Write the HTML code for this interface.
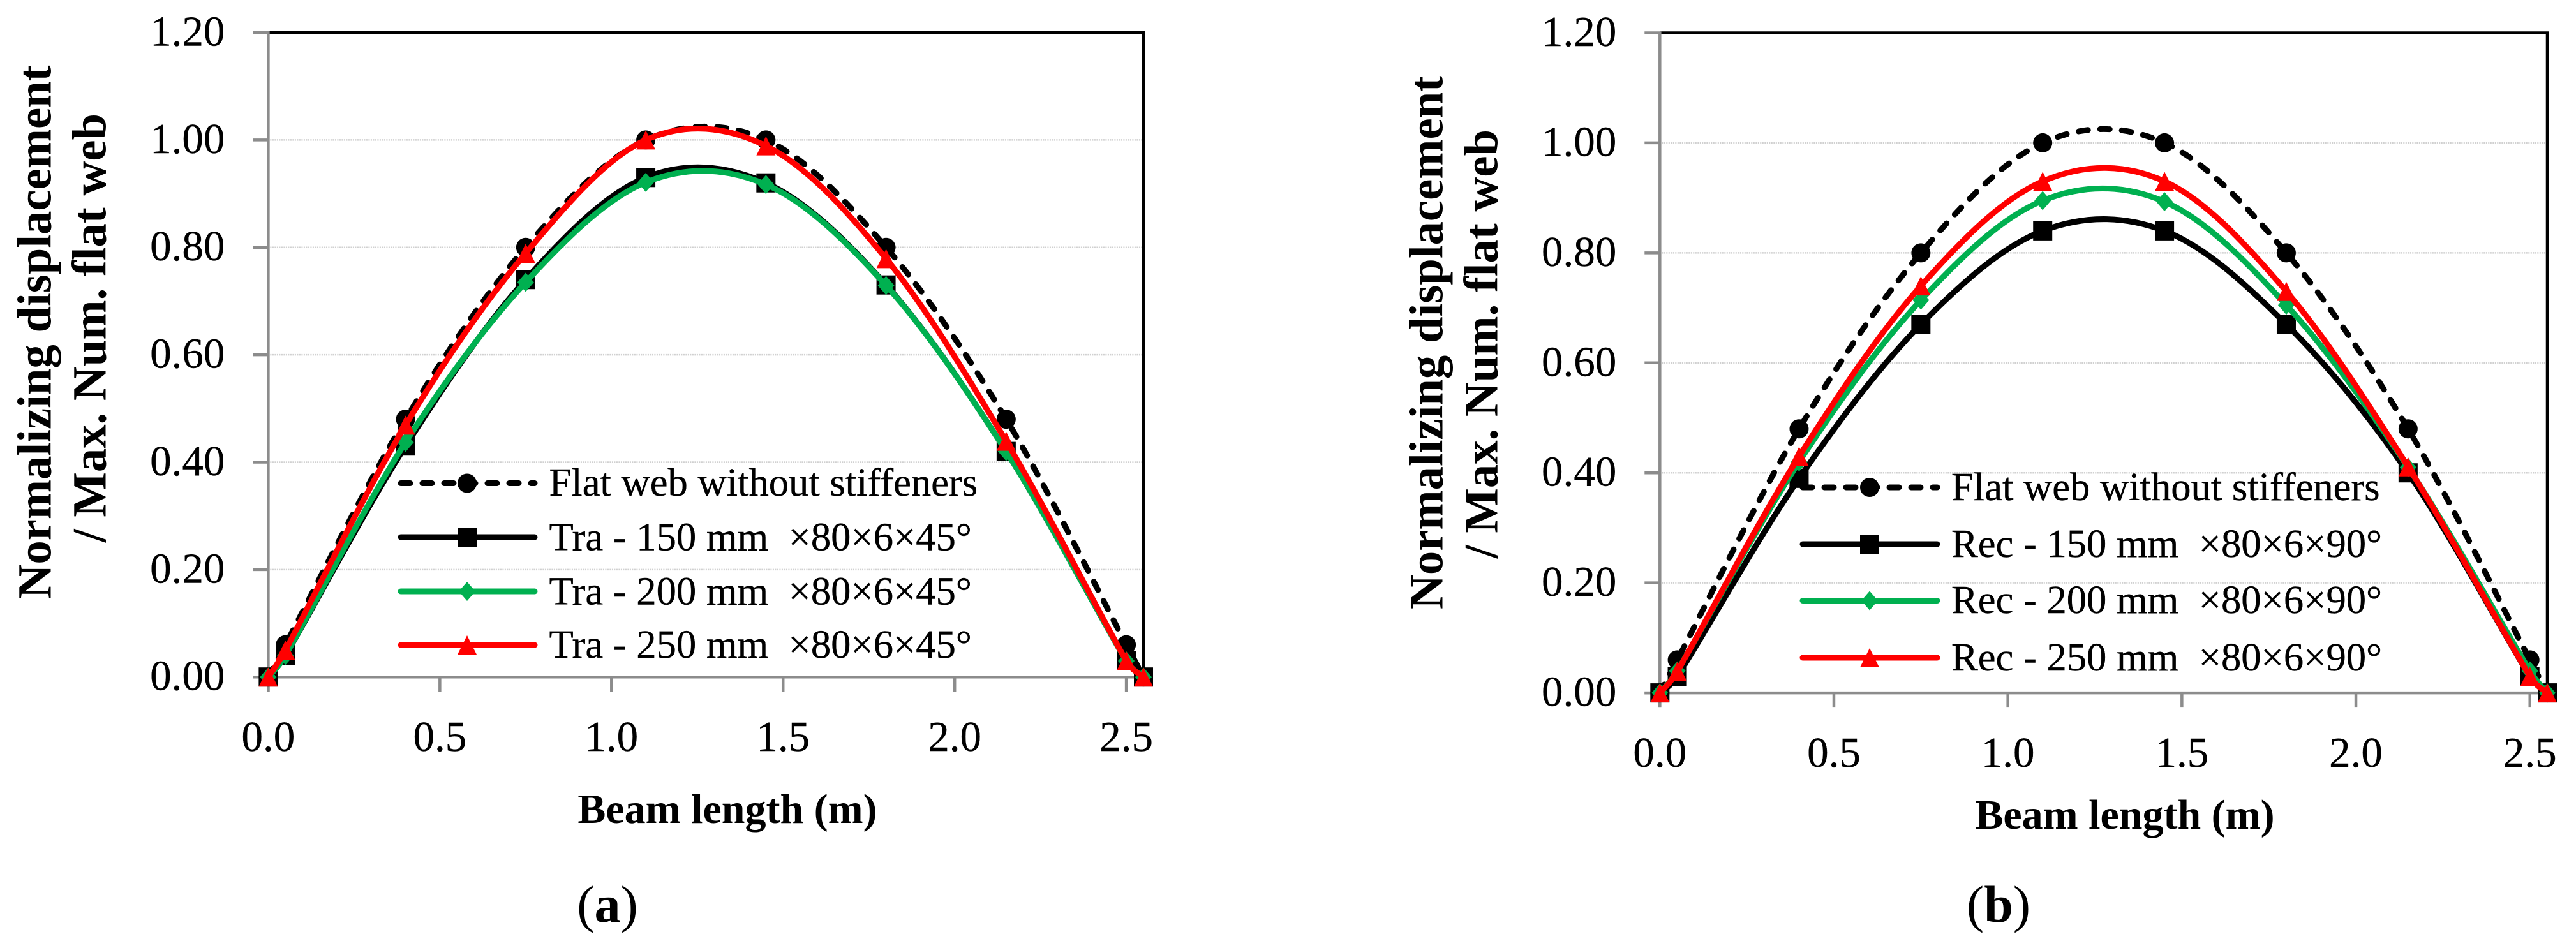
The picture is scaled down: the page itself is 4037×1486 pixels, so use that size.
<!DOCTYPE html>
<html lang="en">
<head>
<meta charset="utf-8">
<title>Normalized displacement along beam length</title>
<style>
  html, body { margin: 0; padding: 0; background: #fff; }
  svg { display: block; }
  text { font-family: "Liberation Serif", serif; fill: #000; white-space: pre; }
  .tick { font-size: 67px; stroke: #000; stroke-width: 0.4px; }
  .legend { font-size: 62.6px; stroke: #000; stroke-width: 0.4px; }
  .ytitle { font-size: 74.7px; font-weight: bold; text-anchor: middle; }
  .xtitle { font-size: 66px; font-weight: bold; text-anchor: middle; }
  .caption { font-size: 82px; text-anchor: middle; }
</style>
</head>
<body>
<svg id="figure" xmlns="http://www.w3.org/2000/svg" width="4037" height="1486" viewBox="0 0 4037 1486">
  <rect width="4037" height="1486" fill="#fff"/>

  <g id="chart-a">
    <g id="axes-a"></g>
    <g id="series-a"></g>
    <g>
      <g>
        <line x1="628" x2="838" y1="757.5" y2="757.5" stroke="#000" stroke-width="9" stroke-linecap="round" stroke-dasharray="15 19"/>
        <circle cx="732" cy="757.5" r="15" fill="#000"/>
        <text class="legend" x="860.5" y="777">Flat web without stiffeners</text>
      </g>
      <g>
        <line x1="628" x2="838" y1="842" y2="842" stroke="#000" stroke-width="9" stroke-linecap="round"/>
        <rect x="717" y="827" width="30" height="30" fill="#000"/>
        <text class="legend" x="860.5" y="862.3">Tra - 150 mm  ×80×6×45°</text>
      </g>
      <g>
        <line x1="628" x2="838" y1="927" y2="927" stroke="#00b050" stroke-width="9" stroke-linecap="round"/>
        <polygon points="732,912 745,927 732,942 719,927" fill="#00b050"/>
        <text class="legend" x="860.5" y="947.3">Tra - 200 mm  ×80×6×45°</text>
      </g>
      <g>
        <line x1="628" x2="838" y1="1011" y2="1011" stroke="#f00" stroke-width="9" stroke-linecap="round"/>
        <polygon points="732,996 747,1026 717,1026" fill="#f00"/>
        <text class="legend" x="860.5" y="1031">Tra - 250 mm  ×80×6×45°</text>
      </g>
    </g>
    <text class="ytitle" transform="translate(79.3 520.5) rotate(-90)">Normalizing displacement</text>
    <text class="ytitle" transform="translate(165.7 514) rotate(-90)">/ Max. Num. flat web</text>
    <text class="xtitle" x="1140" y="1290">Beam length (m)</text>
    <text class="caption" x="952" y="1445">(<tspan font-weight="bold">a</tspan>)</text>
  </g>

  <g id="chart-b">
    <g id="axes-b"></g>
    <g id="series-b"></g>
    <g>
      <g>
        <line x1="2825" x2="3036" y1="764" y2="764" stroke="#000" stroke-width="9" stroke-linecap="round" stroke-dasharray="15 19"/>
        <circle cx="2930" cy="764" r="15" fill="#000"/>
        <text class="legend" x="3058" y="784">Flat web without stiffeners</text>
      </g>
      <g>
        <line x1="2825" x2="3036" y1="853" y2="853" stroke="#000" stroke-width="9" stroke-linecap="round"/>
        <rect x="2915" y="838" width="30" height="30" fill="#000"/>
        <text class="legend" x="3058" y="873">Rec - 150 mm  ×80×6×90°</text>
      </g>
      <g>
        <line x1="2825" x2="3036" y1="941.5" y2="941.5" stroke="#00b050" stroke-width="9" stroke-linecap="round"/>
        <polygon points="2930,926.5 2943,941.5 2930,956.5 2917,941.5" fill="#00b050"/>
        <text class="legend" x="3058" y="961">Rec - 200 mm  ×80×6×90°</text>
      </g>
      <g>
        <line x1="2825" x2="3036" y1="1031" y2="1031" stroke="#f00" stroke-width="9" stroke-linecap="round"/>
        <polygon points="2930,1016 2945,1046 2915,1046" fill="#f00"/>
        <text class="legend" x="3058" y="1051">Rec - 250 mm  ×80×6×90°</text>
      </g>
    </g>
    <text class="ytitle" transform="translate(2260.7 537) rotate(-90)">Normalizing displacement</text>
    <text class="ytitle" transform="translate(2346.7 539) rotate(-90)">/ Max. Num. flat web</text>
    <text class="xtitle" x="3330" y="1299">Beam length (m)</text>
    <text class="caption" x="3132" y="1445">(<tspan font-weight="bold">b</tspan>)</text>
  </g>
</svg>

<script>
// ---- chart data ----
const beamPositions = [0, 0.05, 0.4, 0.75, 1.1, 1.45, 1.8, 2.15, 2.5, 2.55];

const flatWebA = [0, 0.06, 0.48, 0.80, 1.00, 1.00, 0.80, 0.48, 0.06, 0];
const tra150 = [0, 0.04, 0.43, 0.74, 0.93, 0.92, 0.73, 0.42, 0.03, 0];
const tra200 = [0, 0.04, 0.437, 0.735, 0.921, 0.917, 0.729, 0.42, 0.03, 0];
const tra250 = [0, 0.05, 0.469, 0.789, 1.00, 0.989, 0.779, 0.439, 0.03, 0];

const flatWebB = [0, 0.06, 0.48, 0.80, 1.00, 1.00, 0.80, 0.48, 0.06, 0];
const rec150 = [0, 0.03, 0.39, 0.67, 0.84, 0.84, 0.67, 0.40, 0.03, 0];
const rec200 = [0, 0.04, 0.42, 0.714, 0.895, 0.893, 0.705, 0.41, 0.04, 0];
const rec250 = [0, 0.039, 0.43, 0.74, 0.93, 0.93, 0.73, 0.411, 0.03, 0];

const yTickValues = [0, 0.2, 0.4, 0.6, 0.8, 1.0, 1.2];
const yTickLabels = ['0.00', '0.20', '0.40', '0.60', '0.80', '1.00', '1.20'];
const xTickValues = [0, 0.5, 1.0, 1.5, 2.0, 2.5];
const xTickLabels = ['0.0', '0.5', '1.0', '1.5', '2.0', '2.5'];

const xDomainMax = 2.55;
const yDomainMax = 1.2;

// ---- drawing ----
const SVGNS = 'http://www.w3.org/2000/svg';

function svgEl(tag, attrs, parent) {
  const el = document.createElementNS(SVGNS, tag);
  for (const k in attrs) el.setAttribute(k, attrs[k]);
  parent.appendChild(el);
  return el;
}

function smoothPath(pts) {
  function handle(a, b, limit) {
    let dx = (b[0] - a[0]) / 6, dy = (b[1] - a[1]) / 6;
    const len = Math.hypot(dx, dy);
    if (len > limit && len > 0) { dx *= limit / len; dy *= limit / len; }
    return [dx, dy];
  }
  let d = 'M' + pts[0][0].toFixed(2) + ' ' + pts[0][1].toFixed(2);
  for (let i = 0; i < pts.length - 1; i++) {
    const p0 = pts[i - 1] || pts[i];
    const p1 = pts[i];
    const p2 = pts[i + 1];
    const p3 = pts[i + 2] || pts[i + 1];
    const limit = 0.5 * Math.hypot(p2[0] - p1[0], p2[1] - p1[1]);
    const h1 = handle(p0, p2, limit);
    const h2 = handle(p1, p3, limit);
    d += 'C' + (p1[0] + h1[0]).toFixed(2) + ' ' + (p1[1] + h1[1]).toFixed(2) + ' ' +
         (p2[0] - h2[0]).toFixed(2) + ' ' + (p2[1] - h2[1]).toFixed(2) + ' ' +
         p2[0].toFixed(2) + ' ' + p2[1].toFixed(2);
  }
  return d;
}

function drawAxes(group, sx, sy, left, right, bottom, top) {
  const gray = '#8c8c8c';
  yTickValues.forEach(function (v, i) {
    if (v > 0 && v < yDomainMax) {
      const grid = svgEl('line', { x1: left + 3, x2: right - 2, y1: sy(v), y2: sy(v), stroke: '#d0d0d0', 'stroke-width': 2.5, 'stroke-dasharray': '2 1.5' }, group);
      
      
    }
    const tick = svgEl('line', { x1: left - 24, x2: left, y1: sy(v), y2: sy(v), stroke: gray, 'stroke-width': 4.5 }, group);
    
    
    const label = svgEl('text', { class: 'tick', x: left - 68, y: sy(v) + 20.5, 'text-anchor': 'end' }, group);
    label.textContent = yTickLabels[i];
    
    
  });
  xTickValues.forEach(function (v, i) {
    const tick = svgEl('line', { x1: sx(v), x2: sx(v), y1: bottom, y2: bottom + 23, stroke: gray, 'stroke-width': 4.5 }, group);
    
    
    const label = svgEl('text', { class: 'tick', x: sx(v), y: bottom + 116, 'text-anchor': 'middle' }, group);
    label.textContent = xTickLabels[i];
    
    
  });
  const frame = svgEl('path', { d: 'M' + left + ' ' + top + 'H' + right + 'V' + bottom, fill: 'none', stroke: '#000', 'stroke-width': 4.5 }, group);
  
  
  const yAxis = svgEl('line', { x1: left, x2: left, y1: top - 2, y2: bottom + 23, stroke: gray, 'stroke-width': 4.5 }, group);
  
  
  const xAxis = svgEl('line', { x1: left - 24, x2: right + 2, y1: bottom, y2: bottom, stroke: gray, 'stroke-width': 4.5 }, group);
  
  
}

function drawSeries(group, values, sx, sy, color, marker, dashed) {
  const pts = values.map(function (v, i) { return [sx(beamPositions[i]), sy(v)]; });
  const attrs = { d: smoothPath(pts), fill: 'none', stroke: color, 'stroke-width': 9, 'stroke-linecap': 'round', 'stroke-linejoin': 'round' };
  if (dashed) attrs['stroke-dasharray'] = '15 19';
  const line = svgEl('path', attrs, group);
  
  
  pts.forEach(function (p) {
    const x = p[0], y = p[1];
    let m;
    if (marker === 'circle') {
      m = svgEl('circle', { cx: x, cy: y, r: 15, fill: color }, group);
    } else if (marker === 'square') {
      m = svgEl('rect', { x: x - 15, y: y - 15, width: 30, height: 30, fill: color }, group);
    } else if (marker === 'diamond') {
      m = svgEl('polygon', { points: x + ',' + (y - 15) + ' ' + (x + 13) + ',' + y + ' ' + x + ',' + (y + 15) + ' ' + (x - 13) + ',' + y, fill: color }, group);
    } else {
      m = svgEl('polygon', { points: x + ',' + (y - 15) + ' ' + (x + 15) + ',' + (y + 15) + ' ' + (x - 15) + ',' + (y + 15), fill: color }, group);
    }
    
    
  });
}

function drawPanel(axesId, seriesId, left, right, bottom, top, seriesList) {
  const sx = function (v) { return left + (v / xDomainMax) * (right - left); };
  const sy = function (v) { return bottom - (v / yDomainMax) * (bottom - top); };
  drawAxes(document.getElementById(axesId), sx, sy, left, right, bottom, top);
  const group = document.getElementById(seriesId);
  seriesList.forEach(function (s) {
    drawSeries(group, s[0], sx, sy, s[1], s[2], s[3]);
  });
}

drawPanel('axes-a', 'series-a', 420.4, 1792, 1061.2, 51, [
  [flatWebA, '#000', 'circle', true],
  [tra150, '#000', 'square', false],
  [tra200, '#00b050', 'diamond', false],
  [tra250, '#f00', 'triangle', false]
]);

drawPanel('axes-b', 'series-b', 2601.3, 3992, 1086.1, 51.5, [
  [flatWebB, '#000', 'circle', true],
  [rec150, '#000', 'square', false],
  [rec200, '#00b050', 'diamond', false],
  [rec250, '#f00', 'triangle', false]
]);
</script>
</body>
</html>
